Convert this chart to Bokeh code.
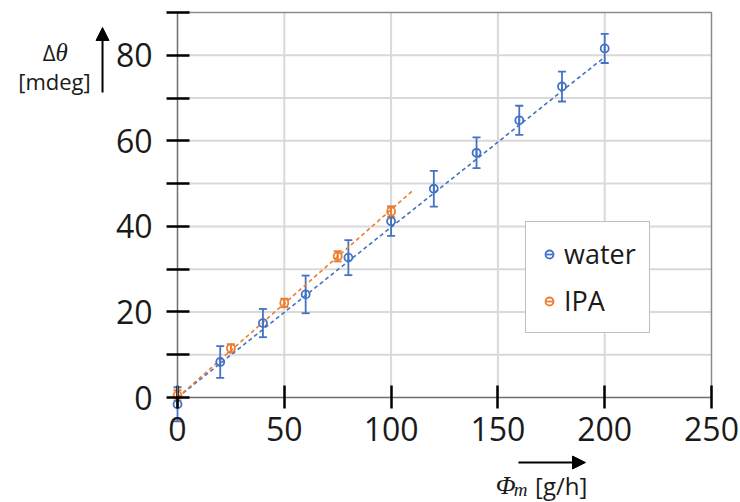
import math
from bokeh.plotting import figure
from bokeh.models import (Range1d, FixedTicker, Whisker, ColumnDataSource, Legend,
                          LegendItem, Label, Arrow, NormalHead, TeeHead)
from bokeh.embed import file_html
from bokeh.resources import INLINE

# ---- data ----
water_x = [0, 20, 40, 60, 80, 100, 120, 140, 160, 180, 200]
water_y = [-1.6, 8.3, 17.4, 24.1, 32.7, 41.2, 48.8, 57.2, 64.8, 72.7, 81.6]
water_err = [4.0, 3.7, 3.3, 4.4, 4.1, 3.4, 4.2, 3.6, 3.4, 3.5, 3.4]

ipa_x = [0, 25, 50, 75, 100]
ipa_y = [0.5, 11.5, 22.1, 33.0, 43.5]
ipa_err = [1.2, 1.0, 1.0, 1.2, 1.2]

water_fit_x = [0, 200]
water_fit_y = [0, 79.6]
ipa_fit_x = [0, 110]
ipa_fit_y = [0, 48.3]

x_ticks = [0, 50, 100, 150, 200, 250]
y_ticks = [0, 10, 20, 30, 40, 50, 60, 70, 80, 90]
y_tick_labels = {0: "0", 10: "", 20: "20", 30: "", 40: "40", 50: "", 60: "60",
                 70: "", 80: "80", 90: ""}

X_MIN, X_MAX = 0, 250
Y_MIN, Y_MAX = 0, 90

# ---- layout (pixels) ----
W, H = 740, 502
PLOT_L, PLOT_R, PLOT_T, PLOT_B = 177, 711, 12, 397
sx = (PLOT_R - PLOT_L) / (X_MAX - X_MIN)
sy = (PLOT_B - PLOT_T) / (Y_MAX - Y_MIN)
x_range = Range1d(X_MIN - PLOT_L / sx, X_MAX + (W - PLOT_R) / sx)
y_range = Range1d(Y_MIN - (H - PLOT_B) / sy, Y_MAX + PLOT_T / sy)

BLUE = "#4472C4"
ORANGE = "#ED7D31"
FONT = "Open Sans"
TXT = "#1a1a1a"
GRID = "#d9d9d9"
BORDER = "#8c8c8c"

p = figure(width=W, height=H, x_range=x_range, y_range=y_range,
           output_backend="svg", toolbar_location=None,
           min_border_left=0, min_border_right=0, min_border_top=0, min_border_bottom=0)
p.outline_line_color = None
p.background_fill_color = "white"
p.xgrid.visible = False
p.ygrid.visible = False

# grid lines inside the plot area, from the tick arrays
vx = [t for t in x_ticks if X_MIN < t < X_MAX]
hy = [t for t in y_ticks if Y_MIN < t < Y_MAX]
p.segment(x0=vx, y0=[Y_MIN] * len(vx), x1=vx, y1=[Y_MAX] * len(vx),
          line_color=GRID, line_width=2, level="underlay")
p.segment(x0=[X_MIN] * len(hy), y0=hy, x1=[X_MAX] * len(hy), y1=hy,
          line_color=GRID, line_width=2, level="underlay")
# top / right border of the plot area
p.line([X_MIN, X_MAX, X_MAX], [Y_MAX, Y_MAX, Y_MIN], line_color=BORDER, line_width=1.5,
       level="underlay")

# axes crossing at the origin
p.xaxis.fixed_location = 0
p.yaxis.fixed_location = 0
p.xaxis.bounds = (X_MIN, X_MAX)
p.yaxis.bounds = (Y_MIN, Y_MAX)
p.xaxis.ticker = FixedTicker(ticks=x_ticks)
p.yaxis.ticker = FixedTicker(ticks=y_ticks)
p.yaxis.major_label_overrides = y_tick_labels
for ax in (p.xaxis, p.yaxis):
    ax.axis_line_color = "#6e6e6e"
    ax.axis_line_width = 1.5
    ax.major_tick_line_color = "black"
    ax.major_tick_line_width = 2.5
    ax.major_tick_in = 12
    ax.major_tick_out = 11
    ax.minor_tick_line_color = None
    ax.major_label_text_font = FONT
    ax.major_label_text_font_size = "32px"
    ax.major_label_text_color = TXT
p.xaxis.major_label_standoff = 8
p.yaxis.major_label_standoff = 14

# fit lines
p.line(water_fit_x, water_fit_y, line_color=BLUE, line_width=1.6, line_dash="4 3")
p.line(ipa_fit_x, ipa_fit_y, line_color=ORANGE, line_width=1.6, line_dash="4 3")

items = []
for name, xs, ys, es, col in [("water", water_x, water_y, water_err, BLUE),
                              ("IPA", ipa_x, ipa_y, ipa_err, ORANGE)]:
    src = ColumnDataSource(dict(x=xs, y=ys,
                                upper=[y + e for y, e in zip(ys, es)],
                                lower=[y - e for y, e in zip(ys, es)]))
    w = Whisker(base="x", upper="upper", lower="lower", source=src, dimension="height",
                line_color=col, line_width=1.8,
                upper_head=TeeHead(size=8, line_color=col, line_width=1.8),
                lower_head=TeeHead(size=8, line_color=col, line_width=1.8))
    p.add_layout(w)
    rc = p.scatter("x", "y", source=src, marker="circle", size=8, line_color=col,
                   line_width=1.8, fill_color=None)
    rd = p.scatter("x", "y", source=src, marker="dash", angle=math.pi / 2, size=8,
                   line_color=col, line_width=1.8)
    items.append(LegendItem(label=name, renderers=[rd, rc]))

legend = Legend(items=items, location=(525, H - 333), border_line_color="#7f7f7f",
                border_line_width=1.5, padding=13, spacing=10, glyph_width=20,
                glyph_height=30, label_height=30, label_standoff=5, margin=0,
                label_text_font=FONT, label_text_font_size="27px",
                label_text_color=TXT, background_fill_alpha=1.0)
p.add_layout(legend)

# y axis title: Δθ [mdeg] with arrow
p.add_layout(Label(x=-57.1, y=80.7, text="Δ", text_align="right", text_baseline="middle",
                   text_font=FONT, text_font_size="22px", text_color=TXT))
p.add_layout(Label(x=-57.1, y=80.7, text="θ", text_align="left", text_baseline="middle",
                   text_font="Liberation Serif", text_font_style="italic",
                   text_font_size="25px", text_color=TXT))
p.add_layout(Label(x=-57.6, y=73.9, text="[mdeg]", text_align="center",
                   text_baseline="middle", text_font=FONT, text_font_size="22px",
                   text_color=TXT))
p.add_layout(Arrow(end=NormalHead(size=13, fill_color="black", line_color="black"),
                   x_start=-35.1, y_start=71.3, x_end=-35.1, y_end=86.5,
                   line_width=2, line_color="black"))

# x axis title: Φm [g/h] with arrow
p.add_layout(Label(x=149.0, y=-20.6, text="Φ", text_align="left", text_baseline="middle",
                   text_font="Liberation Serif", text_font_style="italic",
                   text_font_size="26px", text_color=TXT))
p.add_layout(Label(x=157.4, y=-21.5, text="m", text_align="left", text_baseline="middle",
                   text_font="Liberation Serif", text_font_style="italic",
                   text_font_size="19px", text_color=TXT))
p.add_layout(Label(x=167.4, y=-20.6, text="[g/h]", text_align="left",
                   text_baseline="middle", text_font=FONT, text_font_size="24px",
                   text_color=TXT))
p.add_layout(Arrow(end=NormalHead(size=13, fill_color="black", line_color="black"),
                   x_start=159.6, y_start=-15.2, x_end=191.0, y_end=-15.2,
                   line_width=2, line_color="black"))

open("out.html", "w").write(file_html(p, INLINE))
